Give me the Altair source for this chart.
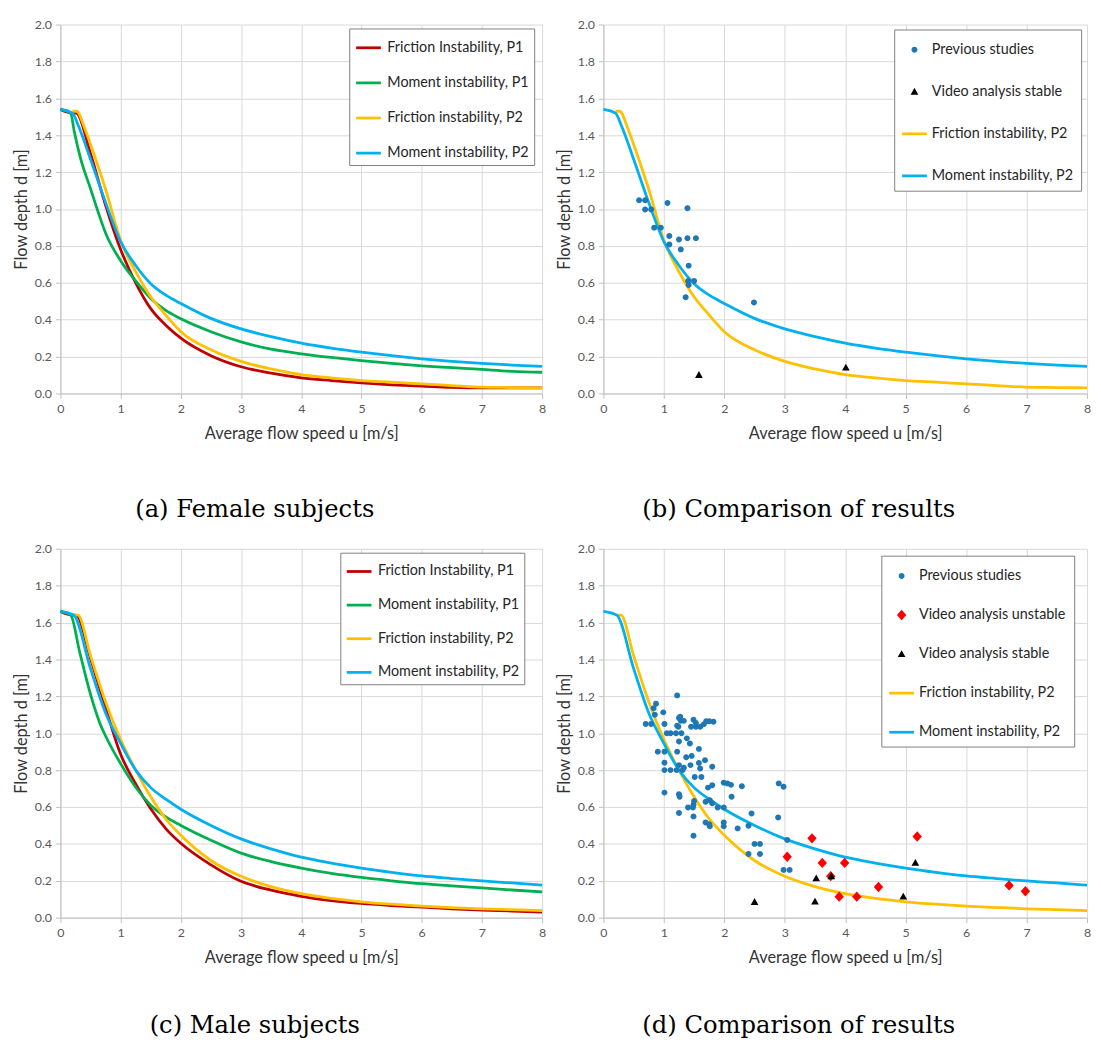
import altair as alt
import pandas as pd

# ---------------- series names ----------------
FR1 = "Friction Instability, P1"
MO1 = "Moment instability, P1"
FR2 = "Friction instability, P2"
MO2 = "Moment instability, P2"
PREV = "Previous studies"
UNST = "Video analysis unstable"
STAB = "Video analysis stable"

RED = "#C00000"
GREEN = "#00B050"
ORANGE = "#FFC000"
BLUE = "#00B0F0"
DOT = "#1F77B4"
DIAM = "#FF0000"
TRI_C = "#000000"

X_TICKS = [0, 1, 2, 3, 4, 5, 6, 7, 8]
Y_TICKS = [0.0, 0.2, 0.4, 0.6, 0.8, 1.0, 1.2, 1.4, 1.6, 1.8, 2.0]

# ---------------- female curves ----------------
F_FR1_U = [0, 0.2, 0.26, 0.5, 0.75, 1.0, 1.25, 1.5, 1.75, 2.0, 2.5, 3.0, 3.5, 4.0, 4.5, 5.0, 5.5, 6.0, 6.5, 7.0, 7.5, 8.0]
F_FR1_D = [1.54, 1.52, 1.52, 1.30, 1.02, 0.78, 0.60, 0.46, 0.37, 0.30, 0.205, 0.145, 0.11, 0.085, 0.07, 0.057, 0.047, 0.04, 0.033, 0.03, 0.03, 0.03]

F_MO1_U = [0, 0.17, 0.23, 0.33, 0.5, 0.62, 0.75, 1.0, 1.25, 1.5, 1.75, 2.0, 2.5, 3.0, 3.5, 4.0, 4.5, 5.0, 5.5, 6.0, 6.5, 7.0, 7.5, 8.0]
F_MO1_D = [1.54, 1.52, 1.42, 1.28, 1.11, 0.99, 0.87, 0.72, 0.61, 0.515, 0.45, 0.405, 0.335, 0.28, 0.24, 0.215, 0.195, 0.178, 0.163, 0.15, 0.14, 0.13, 0.12, 0.115]

F_FR2_U = [0.2, 0.27, 0.4, 0.5, 0.75, 1.0, 1.25, 1.5, 1.75, 2.0, 2.5, 3.0, 3.5, 4.0, 4.5, 5.0, 5.5, 6.0, 6.5, 7.0, 7.5, 8.0]
F_FR2_D = [1.53, 1.53, 1.44, 1.35, 1.107, 0.83, 0.66, 0.524, 0.425, 0.335, 0.237, 0.174, 0.133, 0.102, 0.084, 0.07, 0.061, 0.052, 0.043, 0.034, 0.032, 0.03]

F_MO2_U = [0, 0.2, 0.3, 0.5, 0.75, 1.0, 1.25, 1.5, 1.75, 2.0, 2.5, 3.0, 3.5, 4.0, 4.5, 5.0, 5.5, 6.0, 6.5, 7.0, 7.5, 8.0]
F_MO2_D = [1.54, 1.52, 1.45, 1.27, 1.035, 0.823, 0.694, 0.595, 0.533, 0.488, 0.407, 0.35, 0.308, 0.273, 0.246, 0.224, 0.205, 0.188, 0.174, 0.163, 0.154, 0.147]

# ---------------- male curves ----------------
M_FR1_U = [0, 0.2, 0.26, 0.5, 0.75, 1.0, 1.25, 1.5, 1.75, 2.0, 2.5, 3.0, 3.5, 4.0, 4.5, 5.0, 5.5, 6.0, 6.5, 7.0, 7.5, 8.0]
M_FR1_D = [1.66, 1.64, 1.64, 1.405, 1.137, 0.886, 0.725, 0.59, 0.483, 0.403, 0.286, 0.197, 0.149, 0.116, 0.093, 0.077, 0.066, 0.057, 0.048, 0.041, 0.036, 0.03]

M_MO1_U = [0, 0.17, 0.32, 0.5, 0.66, 0.75, 1.0, 1.25, 1.5, 1.75, 2.0, 2.5, 3.0, 3.5, 4.0, 4.5, 5.0, 5.5, 6.0, 6.5, 7.0, 7.5, 8.0]
M_MO1_D = [1.66, 1.64, 1.44, 1.21, 1.05, 0.985, 0.835, 0.707, 0.61, 0.546, 0.50, 0.42, 0.35, 0.304, 0.269, 0.24, 0.218, 0.20, 0.184, 0.172, 0.161, 0.15, 0.14]

M_FR2_U = [0.22, 0.29, 0.5, 0.75, 1.0, 1.25, 1.5, 1.75, 2.0, 2.5, 3.0, 3.5, 4.0, 4.5, 5.0, 5.5, 6.0, 6.5, 7.0, 7.5, 8.0]
M_FR2_D = [1.64, 1.64, 1.42, 1.17, 0.965, 0.80, 0.655, 0.535, 0.447, 0.31, 0.224, 0.168, 0.13, 0.104, 0.086, 0.073, 0.063, 0.055, 0.048, 0.043, 0.038]

M_MO2_U = [0, 0.22, 0.5, 0.75, 1.0, 1.25, 1.5, 1.75, 2.0, 2.5, 3.0, 3.5, 4.0, 4.5, 5.0, 5.5, 6.0, 6.5, 7.0, 7.5, 8.0]
M_MO2_D = [1.66, 1.64, 1.35, 1.11, 0.945, 0.80, 0.705, 0.642, 0.588, 0.50, 0.427, 0.373, 0.328, 0.296, 0.269, 0.246, 0.226, 0.212, 0.199, 0.188, 0.176]

# ---------------- panel (b) observations ----------------
B_PREV_U = [0.59, 0.69, 0.69, 0.79, 0.84, 0.95, 1.06, 1.09, 1.09, 1.25, 1.28, 1.39, 1.39, 1.53, 1.41, 1.40, 1.41, 1.50, 1.36, 2.49]
B_PREV_D = [1.047, 1.047, 0.997, 0.997, 0.899, 0.899, 1.033, 0.854, 0.808, 0.835, 0.781, 1.004, 0.842, 0.842, 0.693, 0.61, 0.588, 0.61, 0.522, 0.493]
B_STAB_U = [1.58, 4.01]
B_STAB_D = [0.10, 0.14]

# ---------------- panel (d) observations ----------------
D_PREV_U = [0.70, 0.79, 0.83, 0.87, 0.85, 0.99, 1.01, 1.22, 1.25, 1.28, 1.24, 1.33, 1.49, 1.53, 1.45, 1.53,
            1.60, 1.66, 1.70, 1.75, 1.82, 1.05, 1.11, 1.20, 1.29, 1.25, 1.38, 1.43, 1.58, 0.90, 1.01, 1.22,
            1.37, 1.46, 1.68, 1.01, 1.25, 1.44, 1.58, 1.80, 1.01, 1.11, 1.21, 1.31, 1.33, 1.51, 1.62, 1.73,
            1.80, 1.99, 2.05, 2.11, 2.29, 2.90, 2.98, 1.01, 1.25, 1.26, 2.12, 1.50, 1.49, 1.69, 1.76, 1.80,
            1.40, 1.48, 1.89, 1.99, 1.25, 1.49, 2.45, 2.89, 1.69, 1.75, 1.76, 1.99, 1.99, 2.22, 2.40, 1.49,
            2.50, 2.59, 2.40, 2.59, 3.04, 2.98, 3.08, 1.27, 1.22, 1.60]
D_PREV_D = [1.05, 1.05, 1.135, 1.16, 1.10, 1.113, 1.05, 1.205, 1.083, 1.067, 1.035, 1.067, 1.073, 1.055, 1.035, 1.035,
            1.035, 1.048, 1.065, 1.065, 1.062, 1.0, 1.0, 1.0, 1.0, 0.955, 0.972, 0.944, 0.915, 0.90, 0.90, 0.90,
            0.87, 0.877, 0.854, 0.84, 0.827, 0.827, 0.838, 0.818, 0.80, 0.80, 0.80, 0.80, 0.813, 0.763, 0.763, 0.705,
            0.718, 0.732, 0.728, 0.72, 0.712, 0.728, 0.71, 0.678, 0.669, 0.656, 0.656, 0.633, 0.612, 0.628, 0.637, 0.62,
            0.597, 0.597, 0.597, 0.597, 0.567, 0.549, 0.565, 0.543, 0.516, 0.507, 0.495, 0.516, 0.495, 0.484, 0.498, 0.444,
            0.40, 0.40, 0.345, 0.345, 0.421, 0.259, 0.259, 1.09, 1.04, 0.809]
D_UNST_U = [3.45, 3.04, 3.62, 3.99, 3.76, 3.90, 4.19, 4.55, 5.19, 6.71, 6.98]
D_UNST_D = [0.43, 0.33, 0.297, 0.297, 0.225, 0.114, 0.114, 0.166, 0.44, 0.175, 0.143]
D_STAB_U = [2.50, 3.52, 3.50, 3.77, 4.96, 5.16]
D_STAB_D = [0.085, 0.213, 0.087, 0.225, 0.114, 0.297]

# ---------------- symbol paths (unit box -1..1, drawn at size 625 -> 25 px box) --------
LINE_P = "M-1,-0.11L1,-0.11L1,0.11L-1,0.11Z"
CIRC_P = "M-0.24,0A0.24,0.24,0,1,0,0.24,0A0.24,0.24,0,1,0,-0.24,0Z"
TRI_P = "M0,-0.32L0.31,0.24L-0.31,0.24Z"
DIAM_P = "M0,-0.42L0.38,0L0,0.42L-0.38,0Z"

FONT = "Lato"
WL, WR, H = 487, 489, 373
LW = 2.8


def frame(series):
    rows = []
    for name, us, ds in series:
        for u, d in zip(us, ds):
            rows.append({"series": name, "u": u, "d": d})
    return pd.DataFrame(rows)


def xenc():
    return alt.X("u:Q", scale=alt.Scale(domain=[0, 8], nice=False, zero=False),
                 axis=alt.Axis(title="Average flow speed u [m/s]", values=X_TICKS, format="d",
                               labelFlush=False, titlePadding=11, labelPadding=4))


def yenc():
    return alt.Y("d:Q", scale=alt.Scale(domain=[0, 2], nice=False),
                 axis=alt.Axis(title="Flow depth d [m]", values=Y_TICKS, format=".1f",
                               labelFlush=False, titlePadding=5, labelPadding=4))


def legend(x, y, row_pad, pad, stroke):
    kw = dict(title=None, orient="none", legendX=x, legendY=y, symbolSize=625,
              labelFont=FONT, labelFontSize=14.5, labelColor="#262626", labelLimit=400,
              padding=pad, rowPadding=row_pad, fillColor="white", strokeColor="#7f7f7f",
              labelOffset=5)
    if stroke:
        kw.update(symbolType="stroke", symbolStrokeWidth=LW)
    else:
        kw.update(symbolStrokeWidth=0, symbolOpacity=1)
    return alt.Legend(**kw)


def caption(text, offset):
    return alt.TitleParams(text=text, orient="bottom", font="DejaVu Serif", fontSize=24.5,
                           fontWeight="normal", color="#000000", offset=offset, dx=-47, anchor="middle")


def curves_panel(series, leg, cap, w):
    df = frame(series)
    dom = [s[0] for s in series]
    rng = [RED, GREEN, ORANGE, BLUE]
    return alt.Chart(df).mark_line(strokeWidth=LW, interpolate="monotone").encode(
        x=xenc(), y=yenc(),
        color=alt.Color("series:N", scale=alt.Scale(domain=dom, range=rng), legend=leg),
    ).properties(width=w, height=H, title=cap)


def compare_panel(line_series, point_series, dom, col_rng, shp_rng, leg, cap, w):
    dfl = frame(line_series)
    dfp = frame(point_series)
    lines = alt.Chart(dfl).mark_line(strokeWidth=LW, interpolate="monotone").encode(
        x=xenc(), y=yenc(),
        color=alt.Color("series:N", scale=alt.Scale(domain=[FR2, MO2], range=[ORANGE, BLUE]), legend=None),
    )
    pts = alt.Chart(dfp).mark_point(filled=True, size=625, opacity=1, strokeWidth=0).encode(
        x=xenc(), y=yenc(),
        color=alt.Color("series:N", scale=alt.Scale(domain=dom, range=col_rng), legend=leg),
        shape=alt.Shape("series:N", scale=alt.Scale(domain=dom, range=shp_rng), legend=leg),
    )
    return alt.layer(lines, pts).resolve_scale(color="independent", shape="independent").properties(
        width=w, height=H, title=cap)


pa = curves_panel(
    [(FR1, F_FR1_U, F_FR1_D), (MO1, F_MO1_U, F_MO1_D), (FR2, F_FR2_U, F_FR2_D), (MO2, F_MO2_U, F_MO2_D)],
    legend(292, 4, 14.5, 5.5, True), caption("(a) Female subjects", 57), WL)

pb = compare_panel(
    [(FR2, F_FR2_U, F_FR2_D), (MO2, F_MO2_U, F_MO2_D)],
    [(PREV, B_PREV_U, B_PREV_D), (STAB, B_STAB_U, B_STAB_D)],
    [PREV, STAB, FR2, MO2], [DOT, TRI_C, ORANGE, BLUE], [CIRC_P, TRI_P, LINE_P, LINE_P],
    legend(294, 5, 23.5, 8, False), caption("(b) Comparison of results", 57), WR)

pc = curves_panel(
    [(FR1, M_FR1_U, M_FR1_D), (MO1, M_MO1_U, M_MO1_D), (FR2, M_FR2_U, M_FR2_D), (MO2, M_MO2_U, M_MO2_D)],
    legend(283, 4, 13, 5, True), caption("(c) Male subjects", 49), WL)

pd_ = compare_panel(
    [(FR2, M_FR2_U, M_FR2_D), (MO2, M_MO2_U, M_MO2_D)],
    [(PREV, D_PREV_U, D_PREV_D), (UNST, D_UNST_U, D_UNST_D), (STAB, D_STAB_U, D_STAB_D)],
    [PREV, UNST, STAB, FR2, MO2], [DOT, DIAM, TRI_C, ORANGE, BLUE],
    [CIRC_P, DIAM_P, TRI_P, LINE_P, LINE_P],
    legend(281, 7, 20.5, 8, False), caption("(d) Comparison of results", 49), WR)

row1 = alt.hconcat(pa, pb, spacing=8).resolve_scale(color="independent", shape="independent")
row2 = alt.hconcat(pc, pd_, spacing=8).resolve_scale(color="independent", shape="independent")

chart = alt.vconcat(row1, row2, spacing=21).resolve_scale(
    color="independent", shape="independent"
).properties(
    padding={"left": 5, "top": 5, "right": 0, "bottom": 0}
).configure_view(
    strokeWidth=0
).configure_axis(
    grid=True, gridColor="#d9d9d9", gridWidth=1,
    domainColor="#bfbfbf", tickColor="#bfbfbf", tickSize=5,
    labelFont=FONT, labelFontSize=12.5, labelColor="#595959",
    titleFont=FONT, titleFontSize=16.5, titleFontWeight="normal", titleColor="#333333",
)

chart.save("out.html", embed_options={"renderer": "svg", "actions": False})
